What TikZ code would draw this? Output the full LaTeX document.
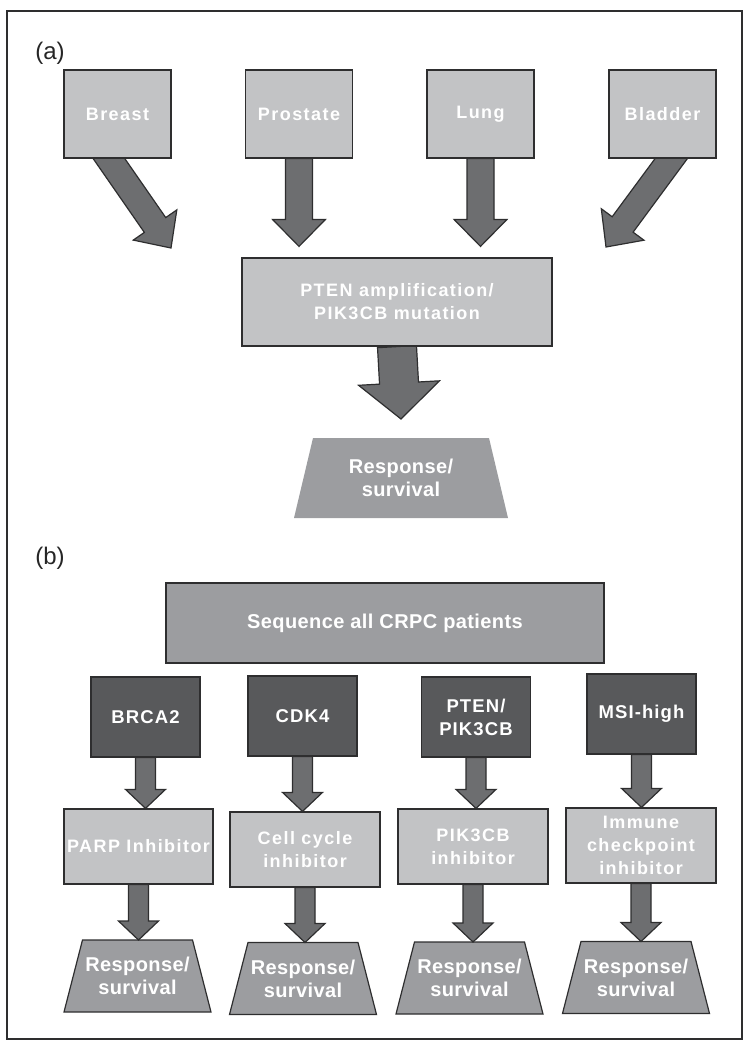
\documentclass[tikz,border=0pt]{standalone}
\usepackage{fontspec}
\setmainfont{Liberation Sans}
\newfontfamily\widesf[LetterSpace=8]{Liberation Sans Bold}
\newfontfamily\midsf[LetterSpace=6]{Liberation Sans Bold}
\newfontfamily\tightsf[LetterSpace=2]{Liberation Sans Bold}
\usetikzlibrary{calc,backgrounds}

\definecolor{edgeink}{HTML}{2E2E2F}
\definecolor{paleboxfill}{HTML}{C2C3C5}
\definecolor{deepboxfill}{HTML}{58595B}
\definecolor{outcomefill}{HTML}{9C9DA0}
\definecolor{arrowfill}{HTML}{6D6E70}
\definecolor{lettering}{HTML}{FFFFFF}

% #1 start, #2 tip, #3 half shaft, #4 half head, #5 head length
\newcommand{\fatarrow}[5]{%
  \coordinate (fa-s) at (#1);
  \coordinate (fa-e) at (#2);
  \coordinate (fa-h) at ($(fa-e)!#5!(fa-s)$);
  \draw[fatline] ($(fa-s)!#3!90:(fa-e)$) -- ($(fa-h)!#3!-90:(fa-s)$) -- ($(fa-h)!#4!-90:(fa-s)$)
    -- (fa-e) -- ($(fa-h)!#4!90:(fa-s)$) -- ($(fa-h)!#3!90:(fa-s)$) -- ($(fa-s)!#3!-90:(fa-e)$) -- cycle;
}

\tikzset{
  palebox/.style={draw=edgeink, fill=paleboxfill, line width=1.2pt, text=lettering, align=center,
    inner sep=0pt, font=\widesf\fontsize{18}{23}\selectfont},
  deepbox/.style={palebox, fill=deepboxfill, font=\midsf\fontsize{18.5}{23}\selectfont},
  seqbox/.style={palebox, fill=outcomefill, font=\tightsf\fontsize{20}{23}\selectfont},
  outcome/.style={text=lettering, align=center, inner sep=0pt, outer sep=0pt,
    font=\tightsf\fontsize{20}{23}\selectfont},
  outcomeline/.style={draw=edgeink, fill=outcomefill, line width=1.2pt, line join=miter},
  fatline/.style={draw=edgeink, fill=arrowfill, line width=1.2pt, line join=miter},
  panellabel/.style={font=\fontsize{24}{28}\selectfont, text=black!85, inner sep=0pt}
}

\begin{document}
\begin{tikzpicture}[x=1pt,y=-1pt]
    \useasboundingbox (0,0) rectangle (752,1049);
    \draw[line width=1.5pt, edgeink] (7,11) rectangle (742,1039);

    % (a)
    \node[panellabel] (labela) at (50,53) {(a)};
    \node[palebox, minimum width=107pt, minimum height=88pt] (breast) at (117.5,114) {Breast};
    \node[palebox, minimum width=107pt, minimum height=88pt] (prostate) at (299,114) {Prostate};
    \node[palebox, minimum width=107pt, minimum height=88pt] (lung) at (480.5,114) {Lung};
    \node[palebox, minimum width=107pt, minimum height=88pt] (bladder) at (662.5,114) {Bladder};
    \node[palebox, minimum width=310pt, minimum height=88pt] (pten) at (397,302) {PTEN amplification/\\PIK3CB mutation};
    \node[outcome, minimum width=214pt, minimum height=80pt] (resp) at (401,478) {Response/\\survival};

    % (b)
    \node[panellabel] (labelb) at (50,558) {(b)};
    \node[seqbox, minimum width=438pt, minimum height=80pt] (sequence) at (385,623) {Sequence all CRPC patients};
    \node[deepbox, minimum width=109pt, minimum height=80pt] (brca) at (145.5,717) {BRCA2};
    \node[deepbox, minimum width=109pt, minimum height=80pt] (cdk) at (302.5,716) {CDK4};
    \node[deepbox, minimum width=109pt, minimum height=80pt] (ptenb) at (476,717) {PTEN/\\PIK3CB};
    \node[deepbox, minimum width=109pt, minimum height=80pt] (msi) at (641.5,714) {MSI-high};
    \node[palebox, minimum width=149pt, minimum height=75pt] (parp) at (138.5,846.5) {PARP Inhibitor};
    \node[palebox, minimum width=150pt, minimum height=75pt] (cellcyc) at (305,849.5) {Cell cycle\\inhibitor};
    \node[palebox, minimum width=150pt, minimum height=75pt] (pikinh) at (473,846.5) {PIK3CB\\inhibitor};
    \node[palebox, minimum width=150pt, minimum height=75pt] (immune) at (641,845.5) {Immune\\checkpoint\\inhibitor};
    \node[outcome, minimum width=147pt, minimum height=72pt] (resp1) at (137.5,976) {Response/\\survival};
    \node[outcome, minimum width=147pt, minimum height=72pt] (resp2) at (303,978.5) {Response/\\survival};
    \node[outcome, minimum width=147pt, minimum height=72pt] (resp3) at (469.5,978) {Response/\\survival};
    \node[outcome, minimum width=147pt, minimum height=72pt] (resp4) at (636,977.5) {Response/\\survival};

    \begin{scope}[on background layer]
        % trapezoids behind the outcome texts
        \fill[outcomefill] ([xshift=19pt]resp.north west) -- ([xshift=-19pt]resp.north east)
            -- (resp.south east) -- (resp.south west) -- cycle;
        \foreach \r in {resp1,resp2,resp3,resp4}
            \draw[outcomeline] ([xshift=18.5pt]\r.north west) -- ([xshift=-18.5pt]\r.north east)
                -- (\r.south east) -- (\r.south west) -- cycle;
        % arrows of (a)
        \coordinate (breasttip) at (171,248);
        \coordinate (bladdertip) at (606,247);
        \coordinate (prostatetip) at ($(prostate.south |- pten.north)+(0,-11)$);
        \coordinate (lungtip) at ($(lung.south |- pten.north)+(0,-11)$);
        \coordinate (ptentip) at ($(resp.north)+(0,-19)$);
        \fatarrow{[xshift=-21pt,yshift=18pt]breast.south}{breasttip}{13pt}{26.5pt}{28pt}
        \fatarrow{prostate.south}{prostatetip}{13.5pt}{26.5pt}{27pt}
        \fatarrow{lung.south}{lungtip}{13.5pt}{26.5pt}{27pt}
        \fatarrow{[xshift=22pt,yshift=18pt]bladder.south}{bladdertip}{13pt}{26.5pt}{28pt}
        \fatarrow{pten.south}{ptentip}{19.5pt}{40.5pt}{36pt}
        % arrows of (b)
        \fatarrow{brca.south}{brca.south |- parp.north}{10pt}{20pt}{19pt}
        \fatarrow{cdk.south}{cdk.south |- cellcyc.north}{10pt}{20pt}{19pt}
        \fatarrow{ptenb.south}{ptenb.south |- pikinh.north}{10pt}{20pt}{19pt}
        \fatarrow{msi.south}{msi.south |- immune.north}{10pt}{20pt}{19pt}
        \fatarrow{parp.south}{parp.south |- resp1.north}{10pt}{20pt}{19pt}
        \fatarrow{cellcyc.south}{cellcyc.south |- resp2.north}{10pt}{20pt}{19pt}
        \fatarrow{pikinh.south}{pikinh.south |- resp3.north}{10pt}{20pt}{19pt}
        \fatarrow{immune.south}{immune.south |- resp4.north}{10pt}{20pt}{19pt}
    \end{scope}
\end{tikzpicture}
\end{document}
